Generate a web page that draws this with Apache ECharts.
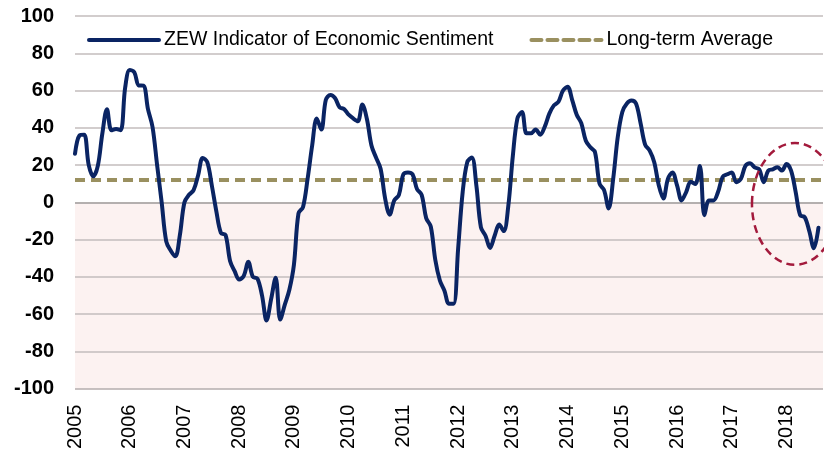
<!DOCTYPE html>
<html>
<head>
<meta charset="utf-8">
<script src="https://cdn.jsdelivr.net/npm/echarts@6/dist/echarts.min.js"></script>
<style>
  html, body { margin: 0; padding: 0; background: #fff; }
  #chart { width: 824px; height: 452px; }
</style>
</head>
<body>
<div id="chart"></div>
<script>
// monthly ZEW values, Jan..Dec
const startYear = 2005;
const zew2005 = [26.0, 35.9, 36.3, 20.1, 13.9, 19.5, 37.0, 50.0, 38.6, 39.3, 38.7, 61.6];
const zew2006 = [71.0, 69.8, 62.7, 62.6, 50.0, 40.4, 20.0, 0.0, -21.0, -26.0, -29.0, -17.5];
const zew2007 = [0.0, 4.0, 6.5, 14.5, 23.8, 21.5, 9.0, -5.0, -16.5, -17.5, -31.5, -37.0];
const zew2008 = [-41.5, -39.5, -32.0, -40.0, -41.0, -50.0, -63.5, -52.0, -40.5, -63.0, -55.0, -47.0];
const zew2009 = [-33.5, -6.0, -2.5, 12.6, 30.5, 45.0, 39.0, 55.0, 57.6, 56.0, 51.0, 50.0];
const zew2010 = [47.0, 45.0, 43.5, 52.5, 44.7, 30.5, 24.0, 18.0, 2.0, -6.7, 1.0, 3.8];
const zew2011 = [15.0, 16.0, 15.0, 7.0, 4.0, -8.5, -13.0, -31.0, -42.0, -47.5, -54.5, -54.5];
const zew2012 = [-25.0, 5.5, 21.5, 24.0, 9.0, -13.5, -18.0, -24.5, -18.0, -12.0, -15.5, -2.0];
const zew2013 = [25.0, 45.0, 48.5, 37.0, 37.0, 39.0, 36.3, 40.6, 47.6, 52.0, 54.0, 60.0];
const zew2014 = [62.0, 55.0, 47.0, 42.5, 33.0, 29.5, 27.0, 10.0, 6.5, -3.3, 12.6, 35.0];
const zew2015 = [48.5, 53.0, 54.6, 53.0, 42.5, 31.0, 27.7, 21.5, 9.0, 2.0, 12.6, 16.0];
const zew2016 = [9.0, 1.0, 5.5, 11.0, 9.8, 19.5, -7.0, 1.0, 1.0, 5.6, 13.6, 15.0];
const zew2017 = [16.0, 10.8, 12.6, 19.6, 21.0, 18.7, 17.7, 10.8, 17.0, 17.7, 18.8, 17.0];
const zew2018 = [20.5, 17.0, 5.6, -7.0, -8.0, -15.6, -24.7, -13.7];
const longTermAverage = 12;

const yearlyValues = [zew2005, zew2006, zew2007, zew2008, zew2009, zew2010, zew2011,
  zew2012, zew2013, zew2014, zew2015, zew2016, zew2017, zew2018];

// x axis runs one month past the last observation
const xMin = startYear;
const xMax = startYear + 164 / 12;

// annotation ellipse, in data units
const ellipseCenter = [2018.155, -0.9];
const ellipseRadius = [0.786, 32.7];

const zewData = [];
yearlyValues.forEach((vals, i) => {
  vals.forEach((v, m) => zewData.push([startYear + i + m / 12, v]));
});

const pink = '#fcf2f1';
const gridColor = '#c3bcbc';
const clear = 'rgba(0,0,0,0)';

const chart = echarts.init(document.getElementById('chart'));

chart.setOption({
  animation: false,
  textStyle: { fontFamily: 'Liberation Sans' },
  grid: { left: 75, right: 1, top: 16, bottom: 60 },
  legend: {
    left: 87,
    top: 30,
    padding: 0,
    itemWidth: 70,
    itemHeight: 2,   // keeps the forced legend dot hidden under the line
    itemGap: 36,
    lineStyle: { width: 4, cap: 'round' },
    textStyle: { fontSize: 19.5, color: '#000', fontFamily: 'Liberation Sans' },
    data: ['ZEW Indicator of Economic Sentiment', 'Long-term Average']
  },
  xAxis: {
    type: 'value',
    min: xMin,
    max: xMax,
    interval: 1,
    axisLine: { show: false },
    axisTick: { show: false },
    splitLine: { show: false },
    axisLabel: {
      rotate: 90,
      fontSize: 20,
      color: '#000',
      margin: 16,
      formatter: v => Number.isInteger(v) ? String(v) : ''
    }
  },
  yAxis: {
    type: 'value',
    min: -100,
    max: 100,
    interval: 20,
    axisLine: { show: false },
    axisTick: { show: false },
    axisLabel: { fontSize: 20, fontWeight: 'bold', color: '#000', margin: 21 },
    splitLine: {
      lineStyle: {
        width: 1.6,
        color: ['#b5adad', gridColor, gridColor, gridColor, gridColor, '#9d9999',
          gridColor, gridColor, gridColor, gridColor, gridColor]
      }
    },
    splitArea: {
      show: true,
      areaStyle: { color: [pink, pink, pink, pink, pink, clear, clear, clear, clear, clear] }
    }
  },
  series: [
    {
      name: 'ZEW Indicator of Economic Sentiment',
      type: 'line',
      data: zewData,
      smooth: 0.35,
      symbol: 'none',
      color: '#0a2463',
      lineStyle: { color: '#0a2463', width: 4, cap: 'round', join: 'round' },
      z: 3
    },
    {
      name: 'Long-term Average',
      type: 'line',
      data: [[xMin, longTermAverage], [xMax, longTermAverage]],
      symbol: 'none',
      color: '#9a9060',
      lineStyle: { color: '#9a9060', width: 4, type: [10, 6] },
      z: 2
    }
  ]
});

// red dashed ellipse around the latest drop
const c = chart.convertToPixel({ gridIndex: 0 }, ellipseCenter);
const e = chart.convertToPixel({ gridIndex: 0 },
  [ellipseCenter[0] + ellipseRadius[0], ellipseCenter[1] + ellipseRadius[1]]);

chart.setOption({
  graphic: [{
    type: 'ellipse',
    shape: { cx: c[0], cy: c[1], rx: e[0] - c[0], ry: c[1] - e[1] },
    style: { fill: 'none', stroke: '#a31a3c', lineWidth: 2.5, lineDash: [8, 5] },
    z: 10
  }]
});
</script>
</body>
</html>
